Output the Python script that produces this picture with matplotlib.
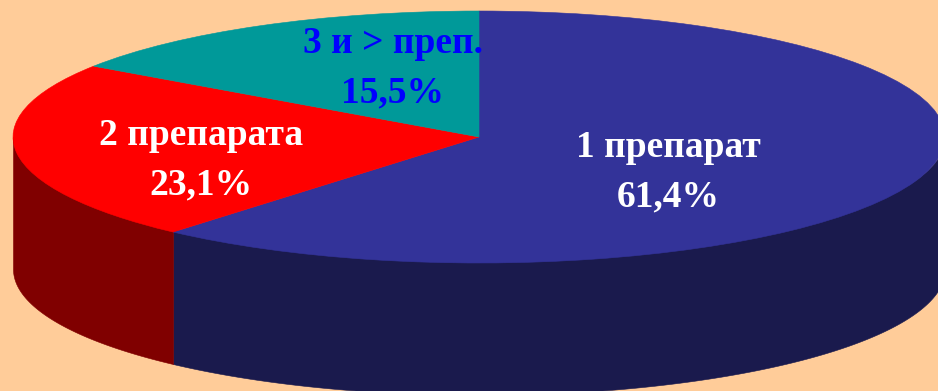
import numpy as np
from matplotlib import pyplot as plt

names = ['1 препарат', '2 препарата', '3 и > преп.']
shares = [61.4, 23.1, 15.5]
top_colors = ['#333399', '#FF0000', '#009999']
wall_colors = ['#1A1A4D', '#800000', '#004D4D']
text_colors = ['white', 'white', '#0000FF']

W, H = 938, 391
# pie geometry in pixels: centre, semi-axes, wall height
cx, cy, rx, ry, depth = 479, 137, 466, 126, 132
label_px = [(668, 172), (201, 160), (393, 68)]


def to_data(px, py):
    return (px - cx) / rx, (cy - py) / ry


plt.rcParams['font.family'] = ['Liberation Serif', 'DejaVu Serif']
fig = plt.figure(figsize=(W / 100, H / 100), dpi=100, facecolor='#FFCC99')
ax = fig.add_axes([0, 0, 1, 1])

wedges, _ = ax.pie(shares, colors=top_colors, startangle=90, counterclock=False,
                   radius=1)
for wedge in wedges:
    wedge.set_edgecolor(wedge.get_facecolor())
    wedge.set_linewidth(0.4)

# front walls: only the part of each slice under the horizontal axis shows
start = 90.0
for share, wall in zip(shares, wall_colors):
    end = start - share * 3.6
    lo, hi = max(end, -180), min(start, 0)
    if hi > lo:
        t = np.radians(np.linspace(lo, hi, 200))
        # top edge runs slightly under the face so no seam shows
        ax.fill_between(np.cos(t), np.sin(t) * 0.97, np.sin(t) - depth / ry,
                        facecolor=wall, edgecolor=wall, linewidth=0.4, zorder=0)
    start = end

for name, share, color, (px, py) in zip(names, shares, text_colors, label_px):
    x, y = to_data(px, py)
    label = name + '\n' + '{:.1f}%'.format(share).replace('.', ',')
    ax.text(x, y, label, color=color, fontsize=27, fontweight='bold',
            ha='center', va='center', linespacing=1.52)

ax.set_aspect('auto')
ax.set_xlim(to_data(0, 0)[0], to_data(W, 0)[0])
ax.set_ylim(to_data(0, H)[1], to_data(0, 0)[1])
ax.axis('off')

fig.savefig('out.png', dpi=100, facecolor=fig.get_facecolor())
